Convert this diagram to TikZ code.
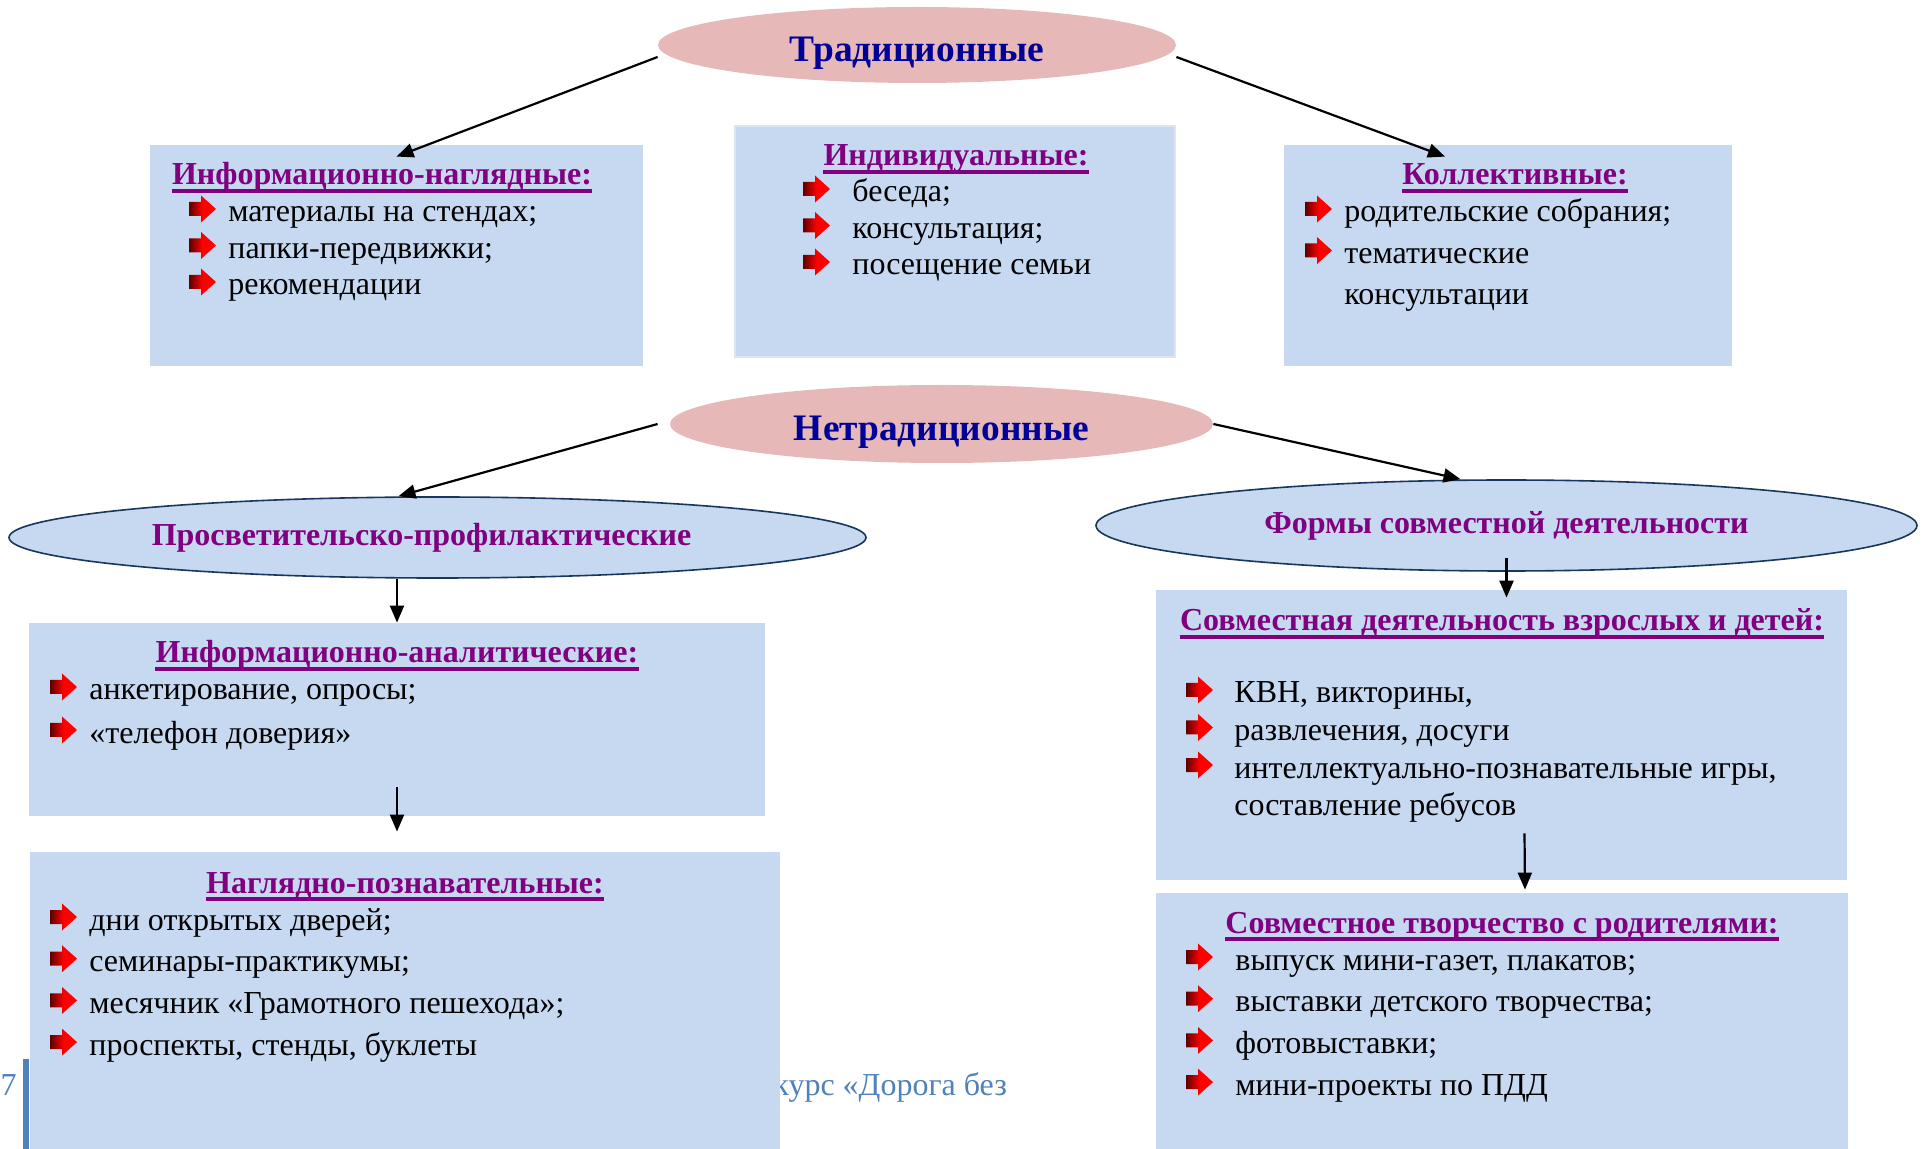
\documentclass[tikz,border=0pt]{standalone}
\usepackage{fontspec}
\setmainfont{Liberation Serif}
\usetikzlibrary{arrows.meta,fit,shapes.geometric}

\definecolor{boxblue}{HTML}{C6D9F1}
\definecolor{boxedge}{HTML}{DCE6F2}
\definecolor{pinkfill}{HTML}{E6B8B7}
\definecolor{navyedge}{HTML}{17375E}
\definecolor{titleblue}{HTML}{000099}
\definecolor{headpurple}{HTML}{800080}
\definecolor{darkarrow}{HTML}{5C0000}
\definecolor{footblue}{HTML}{4F81BD}

\newcommand{\bodyfont}{\fontsize{16}{19}\selectfont}

\begin{document}
\begin{tikzpicture}[
		x=0.5pt, y=-0.5pt,
		% coordinates are pixels of the page, y runs downwards
		box/.style={fill=boxblue, inner sep=0pt},
		pinkoval/.style={ellipse, fill=pinkfill, inner sep=0pt, text height=17pt, text depth=0pt,
			font=\fontsize{18.7}{22}\selectfont\bfseries, text=titleblue},
		blueoval/.style={ellipse, fill=boxblue, draw=navyedge, line width=0.8pt, inner sep=0pt, font=\bodyfont\bfseries, text=headpurple},
		heading/.style={anchor=base, inner sep=0pt, font=\bodyfont\bfseries, text=headpurple},
		item/.style={anchor=base west, inner sep=0pt, font=\bodyfont},
		uline/.style={draw=headpurple, line width=2pt},
		arr/.style={-{Triangle[length=8.5pt,width=7pt]}, line width=1.1pt},
		redarrow/.pic={
			\shade[left color=darkarrow, right color=red, middle color=red]
			(0,-7) -- (12,-7) -- (12,-13.5) -- (27,0) -- (12,13.5) -- (12,7) -- (0,7) -- cycle;
		}
	]
	\useasboundingbox (0,0) rectangle (1923,1149);

	% --- footer of the page, partly hidden ---
	\node[anchor=base east, inner sep=0pt, font=\bodyfont, text=footblue] (pagenum) at (17,1095) {7};
	\fill[footblue] (23,1059) rectangle (29,1149);
	\node[anchor=base west, inner sep=0pt, font=\bodyfont, text=footblue] (footer) at (773,1095) {курс «Дорога без};

	% --- boxes ---
	\node[box, fit={(150,145) (643,366)}] (infvis) {};
	\node[box, draw=boxedge, line width=1pt, fit={(735,126) (1175,357)}] (indiv) {};
	\node[box, fit={(1284,145) (1732,366)}] (koll) {};
	\node[box, fit={(29,623) (765,816)}] (infan) {};
	\node[box, fit={(30,852) (780,1149)}] (nagl) {};
	\node[box, fit={(1156,590) (1847,880)}] (sovm) {};
	\node[box, fit={(1156,893) (1848,1149)}] (tvor) {};

	% --- ovals ---
	\node[pinkoval, minimum width=259pt, minimum height=38pt] (trad) at (917,45) {Традиционные};
	\node[pinkoval, minimum width=271.5pt, minimum height=39pt] (netrad) at (941.5,424) {Нетрадиционные};
	\node[blueoval, minimum width=428.5pt, minimum height=40.5pt] (prosvet) at (437.5,537.5) {\kern-16pt Просветительско-профилактические};
	\node[blueoval, minimum width=410.5pt, minimum height=45.5pt] (forms) at (1506.5,525.5) {Формы совместной деятельности};

	% --- headings ---
	\node[heading] (h-infvis) at (382,185) {Информационно-наглядные:};
	\node[heading] (h-indiv) at (956,166) {Индивидуальные:};
	\node[heading] (h-koll) at (1515,185) {Коллективные:};
	\node[heading] (h-infan) at (397,663) {Информационно-аналитические:};
	\node[heading] (h-nagl) at (405,893) {Наглядно-познавательные:};
	\node[heading] (h-sovm) at (1502,631) {Совместная деятельность взрослых и детей:};
	\node[heading] (h-tvor) at (1502,933) {Совместное творчество с родителями:};
	\foreach \h in {h-infvis, h-indiv, h-koll, h-infan, h-nagl, h-sovm, h-tvor}
		\draw[uline] ([yshift=-2.8pt]\h.base west) -- ([yshift=-2.8pt]\h.base east);

	% --- lists ---
	\foreach \t [count=\i] in {материалы на стендах;, папки-передвижки;, рекомендации} {
		\pic at (189,{222+36.5*(\i-1)-13}) {redarrow};
		\node[item] (infvis-\i) at (228,{222+36.5*(\i-1)}) {\t};
	}
	\foreach \t [count=\i] in {беседа;, консультация;, посещение семьи} {
		\pic at (803,{202+36.5*(\i-1)-13}) {redarrow};
		\node[item] (indiv-\i) at (852,{202+36.5*(\i-1)}) {\t};
	}
	\foreach \t [count=\i] in {родительские собрания;, тематические} {
		\pic at (1305,{222+41.5*(\i-1)-13}) {redarrow};
		\node[item] (koll-\i) at (1344,{222+41.5*(\i-1)}) {\t};
	}
	\node[item] (koll-3) at (1344,305) {консультации};
	\foreach \t [count=\i] in {{анкетирование, опросы;}, «телефон доверия»} {
		\pic at (50,{700+43*(\i-1)-13}) {redarrow};
		\node[item] (infan-\i) at (89,{700+43*(\i-1)}) {\t};
	}
	\foreach \t [count=\i] in {дни открытых дверей;, семинары-практикумы;, месячник «Грамотного пешехода»;, {проспекты, стенды, буклеты}} {
		\pic at (50,{930+41.7*(\i-1)-13}) {redarrow};
		\node[item] (nagl-\i) at (89,{930+41.7*(\i-1)}) {\t};
	}
	\foreach \t [count=\i] in {{КВН, викторины,}, {развлечения, досуги}, {интеллектуально-познавательные игры,}} {
		\pic at (1186,{703+37.5*(\i-1)-13}) {redarrow};
		\node[item] (sovm-\i) at (1234,{703+37.5*(\i-1)}) {\t};
	}
	\node[item] (sovm-4) at (1234,815) {составление ребусов};
	\foreach \t [count=\i] in {{выпуск мини-газет, плакатов;}, выставки детского творчества;, фотовыставки;, мини-проекты по ПДД} {
		\pic at (1186,{970+41.7*(\i-1)-13}) {redarrow};
		\node[item] (tvor-\i) at (1235,{970+41.7*(\i-1)}) {\t};
	}

	% --- connectors ---
	\draw[arr] ([yshift=-6pt]trad.west) -- ([yshift=-6pt]infvis.north);
	\draw[arr] ([yshift=-6pt]trad.east) -- ([shift={(-63,12)}]koll.north);
	\draw[arr] ([xshift=-6pt]netrad.west) -- ([xshift=-19.5pt]prosvet.north);
	\draw[arr] (netrad.east) -- ([xshift=-23pt]forms.north);
	\draw[arr] (infan.north |- prosvet.south) -- (infan.north);
	\draw[arr] ([yshift=14.5pt]infan.south) -- ([yshift=10pt]infan.south |- nagl.north);
	\draw[arr] ([yshift=7pt]forms.south) -- ([yshift=-4pt]forms.south |- sovm.north);
	\draw[arr] ([shift={(23,-47)}]sovm.south) -- ([shift={(23,-3)}]tvor.north);

\end{tikzpicture}
\end{document}
